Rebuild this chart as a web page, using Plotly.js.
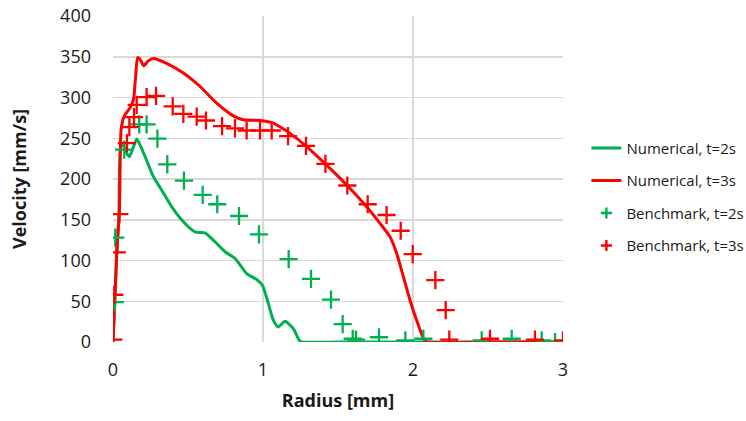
<!DOCTYPE html>
<html>
<head>
<meta charset="utf-8">
<script src="https://cdn.plot.ly/plotly-3.0.1.min.js"></script>
<style>html,body{margin:0;padding:0;background:#fff;}#chart{width:746px;height:421px;}</style>
</head>
<body>
<div id="chart"></div>
<script>
// Numerical, t=2s (green line)
var num2R = [0, 0.013, 0.025, 0.04, 0.053, 0.073, 0.09, 0.109, 0.13, 0.158, 0.19, 0.224, 0.269, 0.324, 0.391, 0.469, 0.547, 0.613, 0.68, 0.747, 0.813, 0.891, 0.958, 0.996, 1.036, 1.069, 1.102, 1.147, 1.202, 1.242, 1.258, 1.5, 2.0, 2.5, 3.0];
var num2V = [0, 55, 110, 160, 241, 240, 232, 227.5, 236, 249, 238, 223, 203, 186.5, 166, 147.5, 135, 134, 123, 110.7, 102.5, 84, 76.7, 69.7, 47, 26.7, 18.5, 25.4, 16.4, 2, 0, 0, 0, 0, 0];
// Numerical, t=3s (red line)
var num3R = [0, 0.013, 0.025, 0.042, 0.047, 0.053, 0.065, 0.08, 0.113, 0.136, 0.151, 0.164, 0.18, 0.205, 0.235, 0.269, 0.358, 0.469, 0.58, 0.691, 0.802, 0.869, 0.98, 1.069, 1.113, 1.18, 1.291, 1.424, 1.558, 1.691, 1.78, 1.847, 1.891, 1.936, 1.98, 2.024, 2.073, 2.09, 2.5, 3.0];
var num3V = [0, 55, 109, 158, 210, 258, 272, 279, 287, 297, 326, 349, 347, 339, 345, 348, 342, 330, 313.5, 293, 277.5, 272.6, 271.7, 268.5, 264, 256, 239.8, 217, 192.7, 166, 145.6, 129, 108.7, 80, 51.3, 26.7, 3, 0, 0, 0];
// Benchmark, t=2s (green crosses)
var bench2R = [0.013, 0.015, 0.075, 0.175, 0.224, 0.296, 0.362, 0.473, 0.598, 0.695, 0.84, 0.973, 1.171, 1.32, 1.453, 1.531, 1.598, 1.62, 1.773, 1.949, 2.069, 2.458, 2.658, 2.858, 2.947];
var bench2V = [49, 128, 236, 267, 267, 249.6, 218, 198, 180.4, 169, 154.6, 132, 101.7, 77.5, 52, 22, 4, 3, 5.8, 2, 4, 2, 4, 2, 0];
// Benchmark, t=3s (red crosses)
var bench3R = [0.002, 0.009, 0.025, 0.042, 0.093, 0.109, 0.14, 0.158, 0.224, 0.287, 0.398, 0.469, 0.558, 0.62, 0.727, 0.813, 0.891, 0.98, 1.058, 1.167, 1.287, 1.416, 1.562, 1.698, 1.824, 1.918, 1.998, 2.149, 2.218, 2.242, 2.513, 2.813, 3.0];
var bench3V = [3, 58, 110, 157, 244, 263.6, 276, 291, 300.5, 302, 289, 280, 276.6, 271.8, 265, 262, 259.5, 259.5, 259.5, 252.5, 240.6, 218.5, 192, 169, 155.8, 136.5, 107.8, 75.9, 39, 3, 4, 3, 2];
var seriesNames = ['Numerical, t=2s', 'Numerical, t=3s', 'Benchmark, t=2s', 'Benchmark, t=3s'];
var xTicks = [0, 1, 2, 3];
var yTicks = [0, 50, 100, 150, 200, 250, 300, 350, 400];

var GREEN = '#00b050', RED = '#ff0000';
var FONT = '"Open Sans", "Noto Sans", sans-serif';

function markerStyle(c, s, w) {
  return {symbol: 'cross-thin', size: s, color: c, line: {color: c, width: w}};
}

var traces = [
  {x: num2R, y: num2V, mode: 'lines', name: seriesNames[0], line: {color: GREEN, width: 3, shape: 'spline', smoothing: 0.6}, legendgroup: 'a', showlegend: true},
  {x: num3R, y: num3V, mode: 'lines', name: seriesNames[1], line: {color: RED, width: 3, shape: 'spline', smoothing: 0.6}, legendgroup: 'b', showlegend: true},
  {x: bench2R, y: bench2V, mode: 'markers', name: seriesNames[2], marker: markerStyle(GREEN, 13, 2.3), showlegend: false},
  {x: bench3R, y: bench3V, mode: 'markers', name: seriesNames[3], marker: markerStyle(RED, 13, 2.3), showlegend: false},
  // legend entries for the marker series (smaller symbols, as in the reference legend)
  {x: [null], y: [null], mode: 'markers', name: seriesNames[2], marker: markerStyle(GREEN, 8, 2.4), legendgroup: 'c', showlegend: true, hoverinfo: 'skip'},
  {x: [null], y: [null], mode: 'markers', name: seriesNames[3], marker: markerStyle(RED, 8, 2.4), legendgroup: 'd', showlegend: true, hoverinfo: 'skip'}
];

var layout = {
  width: 746, height: 421,
  margin: {l: 113, r: 183, t: 16, b: 79, pad: 0, autoexpand: false},
  paper_bgcolor: '#fff', plot_bgcolor: '#fff',
  font: {family: FONT, size: 18, color: '#1a1a1a'},
  showlegend: true,
  legend: {x: 1.052, xanchor: 'left', y: 0.645, yanchor: 'top', traceorder: 'grouped', tracegroupgap: 10,
           font: {family: FONT, size: 15, color: '#1a1a1a'}, bgcolor: 'rgba(0,0,0,0)'},
  xaxis: {
    range: [0, 3], tickvals: xTicks, ticktext: xTicks.map(String),
    showgrid: true, gridcolor: '#d9d9d9', gridwidth: 1.5, zeroline: false,
    showline: false, ticks: '', ticklabelstandoff: 15,
    tickfont: {family: FONT, size: 18, color: '#1a1a1a'},
    title: {text: '<b>Radius [mm]</b>', font: {family: FONT, size: 18, color: '#1a1a1a'}, standoff: 14}
  },
  yaxis: {
    range: [0, 400], tickvals: yTicks, ticktext: yTicks.map(String),
    showgrid: true, gridcolor: '#d9d9d9', gridwidth: 1.5, zeroline: false,
    showline: false, ticks: '', ticklabelstandoff: 21,
    tickfont: {family: FONT, size: 18, color: '#1a1a1a'},
    title: {text: '<b>Velocity [mm/s]</b>', font: {family: FONT, size: 18, color: '#1a1a1a'}, standoff: 28}
  }
};

Plotly.newPlot('chart', traces, layout, {displayModeBar: false, staticPlot: true});
</script>
</body>
</html>
